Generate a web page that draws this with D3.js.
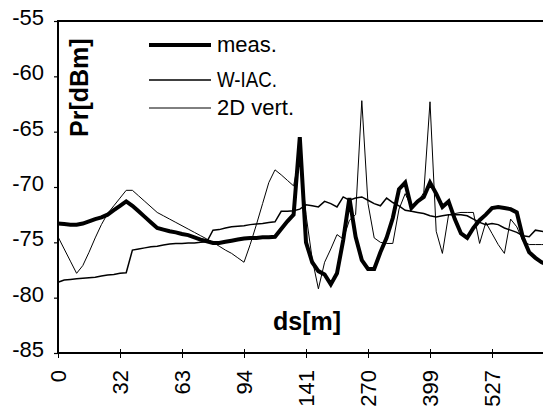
<!DOCTYPE html>
<html><head><meta charset="utf-8">
<script src="https://cdn.jsdelivr.net/npm/d3@7"></script>
<style>html,body{margin:0;padding:0;background:#fff;} svg{display:block;}</style>
</head><body><svg id="c" width="543" height="417"></svg>
<script>
// ---- data (category index every 10 points carries a distance label) ----
const xLabels = ["0","32","63","94","141","270","399","527"];
const labelStep = 10;
const yTicks = [-85,-80,-75,-70,-65,-60,-55];
const seriesNames = ["meas.","W-IAC.","2D vert."];

const meas = [-73.3,-73.35,-73.4,-73.4,-73.3,-73.1,-72.9,-72.75,-72.5,-72.1,
  -71.7,-71.3,-71.7,-72.2,-72.7,-73.2,-73.7,-73.85,-74.0,-74.1,
  -74.25,-74.35,-74.55,-74.75,-74.9,-75.05,-75.05,-74.95,-74.85,-74.75,
  -74.65,-74.6,-74.6,-74.55,-74.55,-74.5,-73.8,-73.1,-72.5,-65.5,
  -75.0,-76.8,-77.6,-77.9,-78.8,-77.8,-74.8,-71.0,-74.5,-76.6,
  -77.4,-77.4,-75.9,-74.6,-72.8,-70.2,-69.6,-71.9,-71.3,-70.9,
  -69.6,-70.6,-71.8,-71.3,-72.9,-74.2,-74.6,-73.7,-73.0,-72.5,
  -71.9,-71.8,-71.9,-72.0,-72.3,-74.6,-75.9,-76.4,-76.8,-77.0];

const wiac = [-78.6,-78.4,-78.35,-78.3,-78.25,-78.2,-78.15,-78.05,-77.95,-77.9,
  -77.8,-77.75,-75.7,-75.6,-75.5,-75.4,-75.35,-75.25,-75.15,-75.1,
  -75.1,-75.05,-75.05,-75.0,-74.95,-73.9,-73.85,-73.7,-73.6,-73.55,
  -73.5,-73.4,-73.35,-73.3,-73.2,-73.15,-72.2,-72.2,-72.15,-72.0,
  -71.6,-71.7,-71.8,-71.3,-71.5,-71.8,-70.9,-71.2,-71.0,-70.9,
  -71.2,-71.5,-71.7,-71.0,-71.4,-71.7,-72.1,-72.2,-72.3,-72.4,
  -72.6,-72.7,-72.6,-72.5,-72.5,-72.5,-72.6,-72.9,-73.2,-73.4,
  -73.3,-73.4,-73.7,-73.9,-74.1,-74.4,-74.5,-73.9,-74.0,-74.1];

const vert2d = [-74.5,-75.6,-76.7,-77.8,-77.1,-75.9,-74.6,-73.4,-72.4,-71.7,
  -71.0,-70.3,-70.3,-70.8,-71.3,-71.8,-72.3,-72.6,-72.9,-73.2,
  -73.5,-73.8,-74.1,-74.4,-74.7,-75.0,-75.35,-75.7,-76.0,-76.4,
  -76.8,-75.2,-73.4,-71.5,-69.6,-68.45,-68.9,-69.4,-69.9,-67.0,
  -72.5,-76.5,-79.2,-76.8,-75.6,-74.3,-74.7,-73.0,-72.5,-62.2,
  -71.5,-74.6,-75.0,-75.1,-75.1,-72.0,-70.6,-71.8,-71.4,-70.5,
  -62.3,-74.0,-76.0,-72.5,-72.4,-72.3,-72.3,-72.3,-75.1,-73.2,
  -74.2,-75.2,-76.0,-72.9,-73.6,-74.9,-75.2,-75.2,-75.2,-75.2];

// ---- drawing ----
const svg = d3.select("#c");
const FONT = "'Liberation Sans', Arial, sans-serif";
svg.append("rect").attr("width",543).attr("height",417).attr("fill","#fff");

const idx = d3.range(meas.length);
const x = d3.scalePoint().domain(idx).range([58, 58 + 6.2*(meas.length-1)]);
const y = d3.scaleLinear().domain([-85,-55]).range([353,21]);

// y axis
const gy = svg.append("g").attr("transform","translate(58,0)")
  .call(d3.axisLeft(y).tickValues(yTicks).tickSize(4).tickPadding(10).tickFormat(d=>String(d)));
gy.select(".domain").remove();
gy.selectAll("line").attr("stroke","#000").attr("stroke-width",1.2);
gy.selectAll("text").attr("font-family",FONT).attr("font-size",22).attr("fill","#000").attr("dy","0.16em");

// x axis
const xtv = xLabels.map((d,i)=>i*labelStep);
const gx = svg.append("g").attr("transform","translate(0,353)")
  .call(d3.axisBottom(x).tickValues(xtv).tickSize(5).tickFormat(i=>xLabels[i/labelStep]));
gx.select(".domain").remove();
gx.selectAll("line").attr("stroke","#000").attr("stroke-width",1).attr("y1",-4).attr("y2",5);
gx.selectAll("text").attr("font-family",FONT).attr("font-size",22).attr("fill","#000")
  .attr("transform","rotate(-90)").attr("text-anchor","end")
  .attr("x",-17).attr("y",0).attr("dy","0.35em");

// frame lines
svg.append("line").attr("x1",58).attr("x2",58).attr("y1",20).attr("y2",354).attr("stroke","#000").attr("stroke-width",2);
svg.append("line").attr("x1",57).attr("x2",543).attr("y1",353).attr("y2",353).attr("stroke","#000").attr("stroke-width",2);
svg.append("line").attr("x1",57).attr("x2",543).attr("y1",21).attr("y2",21).attr("stroke","#000").attr("stroke-width",2);

// series
const line = d3.line().x((d,i)=>x(i)).y(d=>y(d));
const styles = [
  {data:meas, w:4},
  {data:wiac, w:1.5},
  {data:vert2d, w:1}
];
styles.forEach(s=>{
  svg.append("path").datum(s.data).attr("d",line)
    .attr("fill","none").attr("stroke","#000").attr("stroke-width",s.w)
    .attr("stroke-linejoin","miter");
});

// axis titles
svg.append("text").attr("transform","translate(88,137) rotate(-90)")
  .attr("font-family",FONT).attr("font-size",25).attr("font-weight","bold").text("Pr[dBm]");
svg.append("text").attr("x",273).attr("y",330)
  .attr("font-family",FONT).attr("font-size",25).attr("font-weight","bold").text("ds[m]");

// legend
const legY = [45, 80, 108];
seriesNames.forEach((n,i)=>{
  svg.append("line").attr("x1",149).attr("x2",211).attr("y1",legY[i]).attr("y2",legY[i])
    .attr("stroke","#000").attr("stroke-width",styles[i].w);
  const t = svg.append("text").attr("x",217).attr("y",legY[i]+7)
    .attr("font-family",FONT).attr("font-size",22).attr("fill","#000").text(n);
  if (i===1) t.attr("textLength",60).attr("lengthAdjust","spacingAndGlyphs");
});
</script></body></html>
